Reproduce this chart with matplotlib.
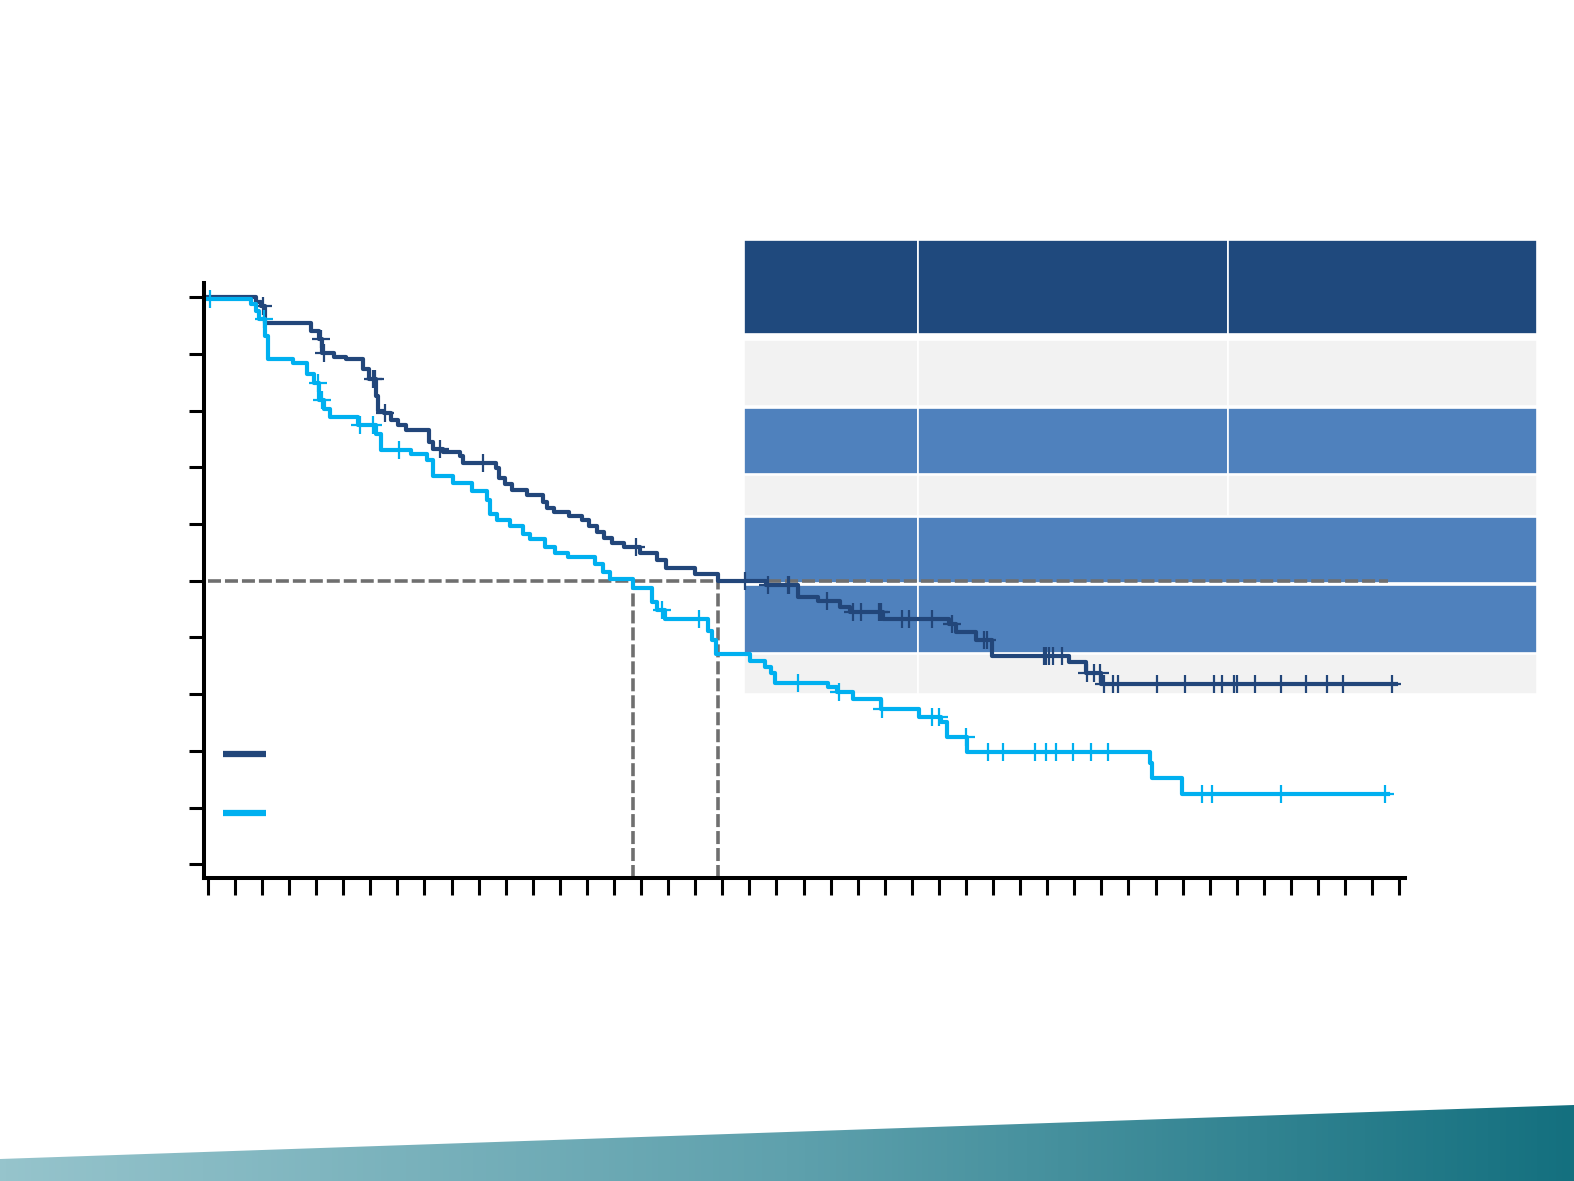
import numpy as np
import matplotlib
matplotlib.use('Agg')
import matplotlib.pyplot as plt
from matplotlib.patches import Rectangle, Polygon
from matplotlib.colors import LinearSegmentedColormap

# Kaplan-Meier steps (time in months, survival fraction)
dark_t = [0, 1.78, 1.96, 2.11, 3.81, 4.11, 4.22, 4.67, 5.11, 5.74,
          5.96, 6.22, 6.30, 6.52, 6.78, 7.04, 7.30, 8.15, 8.30, 8.67,
          9.30, 9.44, 10.63, 10.74, 10.96, 11.22, 11.78, 12.37, 12.52, 12.78,
          13.33, 13.81, 14.07, 14.37, 14.63, 14.93, 15.37, 15.96, 16.59, 16.93,
          18.00, 18.85, 20.63, 21.81, 22.52, 23.33, 23.70, 24.93, 27.37, 27.63,
          28.37, 28.96, 31.81, 32.44, 33.00, 43.89]
dark_s = [1.0, 0.992, 0.985, 0.954, 0.940, 0.926, 0.901, 0.894, 0.890, 0.873,
          0.855, 0.825, 0.800, 0.795, 0.784, 0.775, 0.766, 0.745, 0.733, 0.727,
          0.719, 0.708, 0.699, 0.681, 0.671, 0.660, 0.651, 0.639, 0.628, 0.621,
          0.614, 0.607, 0.596, 0.586, 0.575, 0.566, 0.559, 0.549, 0.536, 0.522,
          0.512, 0.499, 0.492, 0.471, 0.464, 0.453, 0.444, 0.432, 0.423, 0.409,
          0.396, 0.368, 0.356, 0.338, 0.317, 0.317]
dark_cens = [2.04, 4.19, 4.30, 6.11, 6.19, 6.56, 8.56, 10.15, 15.81, 19.85,
             20.70, 21.41, 21.48, 22.85, 23.81, 24.11, 24.78, 24.85, 25.63, 25.89,
             26.74, 27.48, 28.67, 28.78, 30.89, 30.96, 31.07, 31.22, 31.56, 32.48,
             32.74, 32.93, 33.11, 33.41, 33.63, 35.07, 36.07, 37.15, 37.44, 37.89,
             38.00, 38.67, 39.63, 40.56, 41.33, 41.93, 43.74]

light_t = [0, 1.59, 1.78, 1.89, 2.11, 2.22, 3.15, 3.67, 3.93, 4.11,
           4.30, 4.52, 5.56, 6.22, 6.41, 7.52, 8.11, 8.33, 9.07, 9.74,
           10.30, 10.41, 10.67, 11.15, 11.63, 11.89, 12.44, 12.81, 13.30, 14.30,
           14.59, 14.85, 15.70, 16.41, 16.59, 16.89, 18.48, 18.63, 18.78, 20.04,
           20.56, 20.78, 20.96, 22.89, 23.22, 23.81, 24.85, 26.26, 27.07, 27.30,
           28.04, 34.78, 34.85, 35.96, 43.60]
light_s = [0.996, 0.988, 0.975, 0.961, 0.931, 0.890, 0.883, 0.865, 0.848, 0.819,
           0.802, 0.788, 0.775, 0.759, 0.731, 0.724, 0.713, 0.685, 0.673, 0.658,
           0.642, 0.618, 0.607, 0.596, 0.582, 0.573, 0.559, 0.549, 0.542, 0.529,
           0.515, 0.503, 0.488, 0.462, 0.448, 0.432, 0.412, 0.396, 0.370, 0.359,
           0.347, 0.338, 0.320, 0.312, 0.304, 0.292, 0.273, 0.260, 0.250, 0.225,
           0.198, 0.179, 0.152, 0.124, 0.124]
light_cens = [0.07, 2.07, 4.07, 4.22, 5.63, 6.10, 7.07, 16.78, 18.15, 21.81,
              23.30, 24.89, 26.74, 27.00, 28.00, 28.81, 29.37, 30.56, 30.96, 31.33,
              31.96, 32.63, 33.26, 36.70, 37.07, 39.63, 43.48]

medians = [15.70, 18.85]
median_line_end = 43.6

x_ticks = np.arange(0, 45, 1)
y_ticks = np.arange(0, 1.01, 0.1)

DARK = '#22467A'
LIGHT = '#00B0F0'
GREY = '#6F6F6F'

W, H = 1574, 1181
fig = plt.figure(figsize=(W / 100, H / 100), dpi=100)

# background layer in pixel coordinates (table blocks + bottom band)
bg = fig.add_axes([0, 0, 1, 1], zorder=0)
bg.set_xlim(0, W)
bg.set_ylim(H, 0)
bg.axis('off')

cols = [743.8, 917.5, 1227.7, 1536.8]
rows = [
    (239.9, 334.3, '#1F497D', 3),
    (340.3, 406.5, '#F2F2F2', 3),
    (407.5, 473.8, '#4F81BD', 3),
    (474.8, 516.0, '#F2F2F2', 3),
    (517.0, 583.2, '#4F81BD', 2),
    (585.2, 652.5, '#4F81BD', 2),
    (653.5, 693.6, '#F2F2F2', 2),
]
for y0, y1, color, ncells in rows:
    edges = cols if ncells == 3 else [cols[0], cols[1], cols[3]]
    for x0, x1 in zip(edges[:-1], edges[1:]):
        bg.add_patch(Rectangle((x0, y0), x1 - x0, y1 - y0, facecolor=color,
                               edgecolor='white', lw=1.2))

# gradient band at the bottom
band = Polygon([(0, 1159), (W, 1105), (W, H), (0, H)], closed=True,
               facecolor='none', edgecolor='none')
bg.add_patch(band)
cmap = LinearSegmentedColormap.from_list('band', ['#96C4CC', '#5FA1AD', '#14707F'])
grad = np.linspace(0, 1, 512).reshape(1, -1)
im = bg.imshow(grad, cmap=cmap, extent=[0, W, H, 1100], aspect='auto')
im.set_clip_path(band)

# legend swatches
bg.plot([222.8, 266], [753.9, 753.9], color=DARK, lw=4.5, solid_capstyle='butt')
bg.plot([222.8, 266], [813, 813], color=LIGHT, lw=4.5, solid_capstyle='butt')

# main survival plot
ax = fig.add_axes([0.1295, 0.2563, 0.7631, 0.5041], zorder=1)
ax.patch.set_alpha(0)
ax.set_xlim(-0.148, 44.21)
ax.set_ylim(-0.0247, 1.0249)

# median lines
ax.hlines(0.5, 0, median_line_end, colors=GREY, lw=2.6, linestyles=(0, (3.6, 1.1)))
ax.vlines(medians, -0.0247, 0.5, colors=GREY, lw=2.6, linestyles=(0, (3.6, 1.1)))

for t, s, cens, color in [(dark_t, dark_s, dark_cens, DARK),
                          (light_t, light_s, light_cens, LIGHT)]:
    ax.step(t, s, where='post', color=color, lw=3.0)
    idx = np.searchsorted(t, cens, side='right') - 1
    ax.plot(cens, np.array(s)[idx], ls='none', marker='+', ms=13,
            mew=1.6, color=color)

ax.set_xticks(x_ticks)
ax.set_yticks(y_ticks)
ax.set_xticklabels([])
ax.set_yticklabels([])
ax.tick_params(axis='x', direction='out', length=12, width=2.2)
ax.tick_params(axis='y', direction='out', length=11, width=2.2)
for side in ['top', 'right']:
    ax.spines[side].set_visible(False)
for side in ['left', 'bottom']:
    ax.spines[side].set_linewidth(2.9)

plt.savefig('out.png', dpi=100)
